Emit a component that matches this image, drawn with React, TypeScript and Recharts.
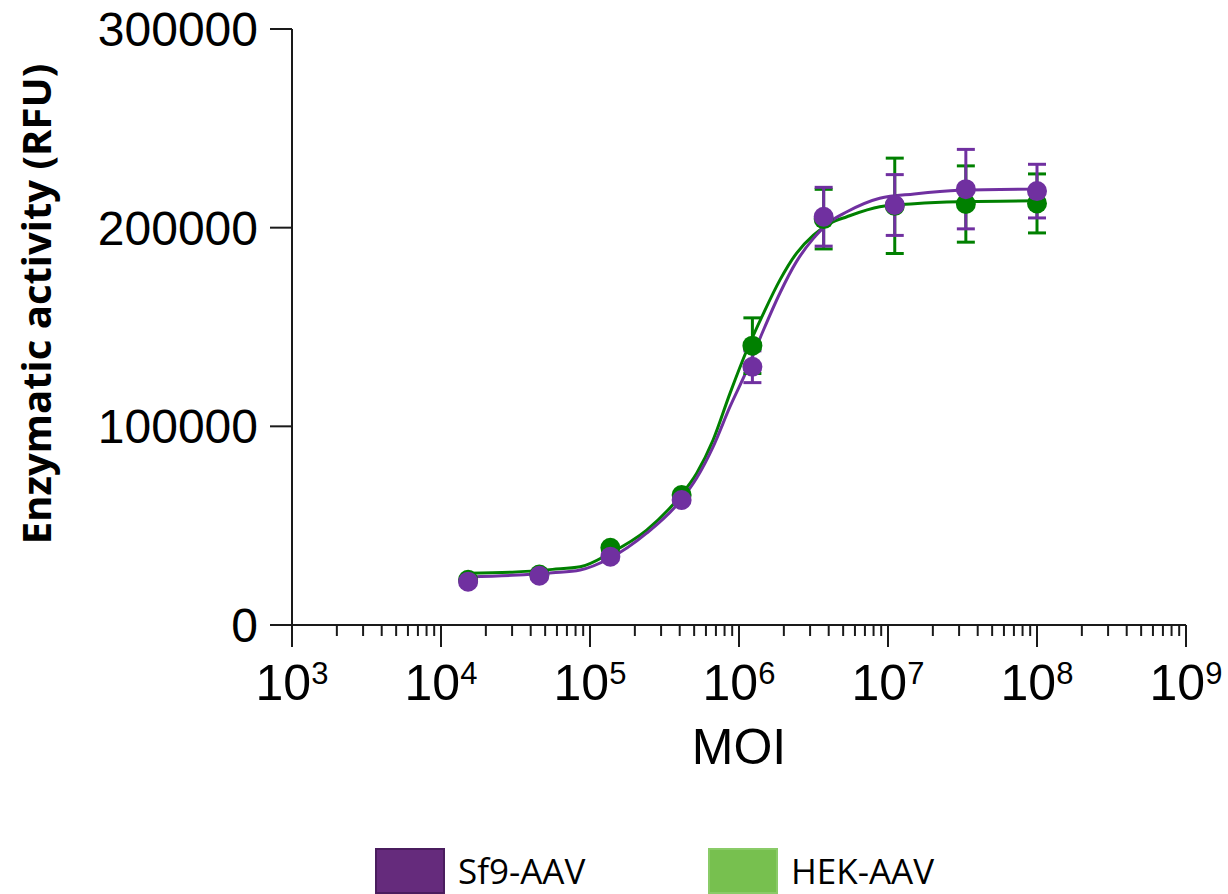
import {
  ComposedChart,
  ErrorBar,
  Legend,
  Line,
  Scatter,
  XAxis,
  YAxis,
} from "recharts";

// measured MOI (3-fold dilution series)
const moi = [1.52e4, 4.57e4, 1.37e5, 4.12e5, 1.23e6, 3.7e6, 1.11e7, 3.33e7, 1.0e8];

const sf9Mean = [21800, 24800, 34400, 62900, 130000, 205500, 211400, 219400, 218400];
const sf9Sd = [400, 400, 400, 500, 8000, 14800, 15300, 20000, 13500];

const hekMean = [22800, 25400, 38900, 65400, 140600, 204300, 211000, 211900, 212200];
const hekSd = [400, 400, 400, 500, 14000, 15000, 24000, 19200, 14850];

// fitted curves
const curveMoi = [
  1.52e4, 3.0e4, 5.6e4, 8.6e4, 1.36e5, 2.4e5, 4.0e5, 5.2e5, 6.7e5, 8.7e5, 1.13e6,
  1.46e6, 1.88e6, 2.43e6, 3.16e6, 4.08e6, 5.3e6, 8.8e6, 1.5e7, 3.0e7, 1.0e8,
];
const sf9Fit = [
  24200, 25000, 26300, 27700, 33600, 46200, 62100, 74000, 89700, 109900, 128300,
  148500, 167000, 182900, 194600, 203000, 208000, 214800, 217000, 218800, 219400,
];
const hekFit = [
  26000, 26600, 28000, 29300, 36100, 47800, 64600, 76400, 93100, 116600, 138400,
  156900, 173600, 187100, 196300, 202200, 205500, 210500, 212000, 213000, 213500,
];

const yTicks = [0, 100000, 200000, 300000];
const decades = [3, 4, 5, 6, 7, 8, 9];
const minorSteps = [2, 3, 4, 5, 6, 7, 8, 9];

const legendItems = [
  { label: "Sf9-AAV", fill: "#652B7C", border: "#4A1D5E" },
  { label: "HEK-AAV", fill: "#77C04F", border: "#8ACB68" },
];

const SF9 = "#7030A0";
const HEK = "#008000";

const xTicks: number[] = [];
decades.forEach((d) => {
  xTicks.push(Math.pow(10, d));
  if (d < 9) minorSteps.forEach((m) => xTicks.push(m * Math.pow(10, d)));
});

const points = (means: number[], sds: number[]) =>
  moi.map((x, i) => ({ x, y: means[i], err: sds[i] }));
const curve = (vals: number[]) => curveMoi.map((x, i) => ({ x, y: vals[i] }));

const sf9Points = points(sf9Mean, sf9Sd);
const hekPoints = points(hekMean, hekSd);
const sf9Curve = curve(sf9Fit);
const hekCurve = curve(hekFit);

const AXIS = "#1a1a1a";
const ARIAL = "'Liberation Sans', Arial, sans-serif";

function XTick(props: any) {
  const { x, y, payload } = props;
  const v = payload.value;
  const exp = Math.round(Math.log10(v));
  const major = Math.abs(Math.pow(10, exp) - v) < 1e-6 * v;
  return (
    <g>
      <line x1={x} x2={x} y1={y} y2={y + (major ? 22 : 11)} stroke={AXIS} strokeWidth={2} />
      {major && (
        <text x={x} y={y + 75} textAnchor="middle" fontFamily={ARIAL} fontSize={50} fill="#000">
          10
          <tspan fontSize={31} dy={-16}>
            {exp}
          </tspan>
        </text>
      )}
    </g>
  );
}

function Dot(color: string) {
  return (p: any) => <circle cx={p.cx} cy={p.cy} r={10} fill={color} />;
}

function YLabel() {
  return (
    <text
      x={0}
      y={0}
      transform="translate(51 304) rotate(-90)"
      textAnchor="middle"
      fontFamily="'Open Sans', sans-serif"
      fontWeight={700}
      fontSize={40}
      fill="#000"
    >
      Enzymatic activity (RFU)
    </text>
  );
}

function XLabel() {
  return (
    <text x={739} y={764} textAnchor="middle" fontFamily={ARIAL} fontSize={50} fill="#000">
      MOI
    </text>
  );
}

function LegendBox() {
  const lefts = [375, 708];
  return (
    <div style={{ position: "relative", width: 1228, height: 50 }}>
      {legendItems.map((it, i) => (
        <div
          key={it.label}
          style={{ position: "absolute", left: lefts[i], top: 0, display: "flex", alignItems: "center" }}
        >
          <div
            style={{
              width: 70,
              height: 46,
              background: it.fill,
              border: `2px solid ${it.border}`,
              boxSizing: "border-box",
            }}
          />
          <span
            style={{
              marginLeft: 13,
              fontFamily: "'Open Sans', sans-serif",
              fontSize: 35,
              color: "#000",
              lineHeight: "46px",
            }}
          >
            {it.label}
          </span>
        </div>
      ))}
    </div>
  );
}

export default function App() {
  return (
    <div style={{ position: "absolute", left: 0, top: 0, width: 1228, height: 894, overflow: "hidden", background: "#fff" }}>
      <ComposedChart
        width={1228}
        height={894}
        margin={{ top: 29, right: 42, left: 92, bottom: 169 }}
      >
        <XAxis
          dataKey="x"
          type="number"
          scale="log"
          domain={[1000, 1e9]}
          allowDataOverflow
          ticks={xTicks}
          interval={0}
          tick={XTick}
          tickLine={false}
          tickSize={0}
          tickMargin={0}
          height={100}
          axisLine={{ stroke: AXIS, strokeWidth: 2 }}
          label={<XLabel />}
        />
        <YAxis
          dataKey="y"
          type="number"
          domain={[0, 300000]}
          ticks={yTicks}
          interval={0}
          width={200}
          tickSize={22}
          tickMargin={12}
          tickLine={{ stroke: AXIS, strokeWidth: 2 }}
          axisLine={{ stroke: AXIS, strokeWidth: 2 }}
          tick={{ fontSize: 48, fill: "#000", fontFamily: ARIAL }}
          label={<YLabel />}
        />
        <Line
          data={hekCurve}
          dataKey="y"
          type="monotone"
          stroke={HEK}
          strokeWidth={3}
          dot={false}
          activeDot={false}
          isAnimationActive={false}
        />
        <Line
          data={sf9Curve}
          dataKey="y"
          type="monotone"
          stroke={SF9}
          strokeWidth={3}
          dot={false}
          activeDot={false}
          isAnimationActive={false}
        />
        <Scatter data={hekPoints} dataKey="y" shape={Dot(HEK)} isAnimationActive={false}>
          <ErrorBar dataKey="err" direction="y" width={9} stroke={HEK} strokeWidth={3} />
        </Scatter>
        <Scatter data={sf9Points} dataKey="y" shape={Dot(SF9)} isAnimationActive={false}>
          <ErrorBar dataKey="err" direction="y" width={9} stroke={SF9} strokeWidth={3} />
        </Scatter>
        <Legend
          layout="horizontal"
          verticalAlign="middle"
          align="center"
          content={<LegendBox />}
          wrapperStyle={{ left: 0, top: 848, width: 1228 }}
        />
      </ComposedChart>
    </div>
  );
}
